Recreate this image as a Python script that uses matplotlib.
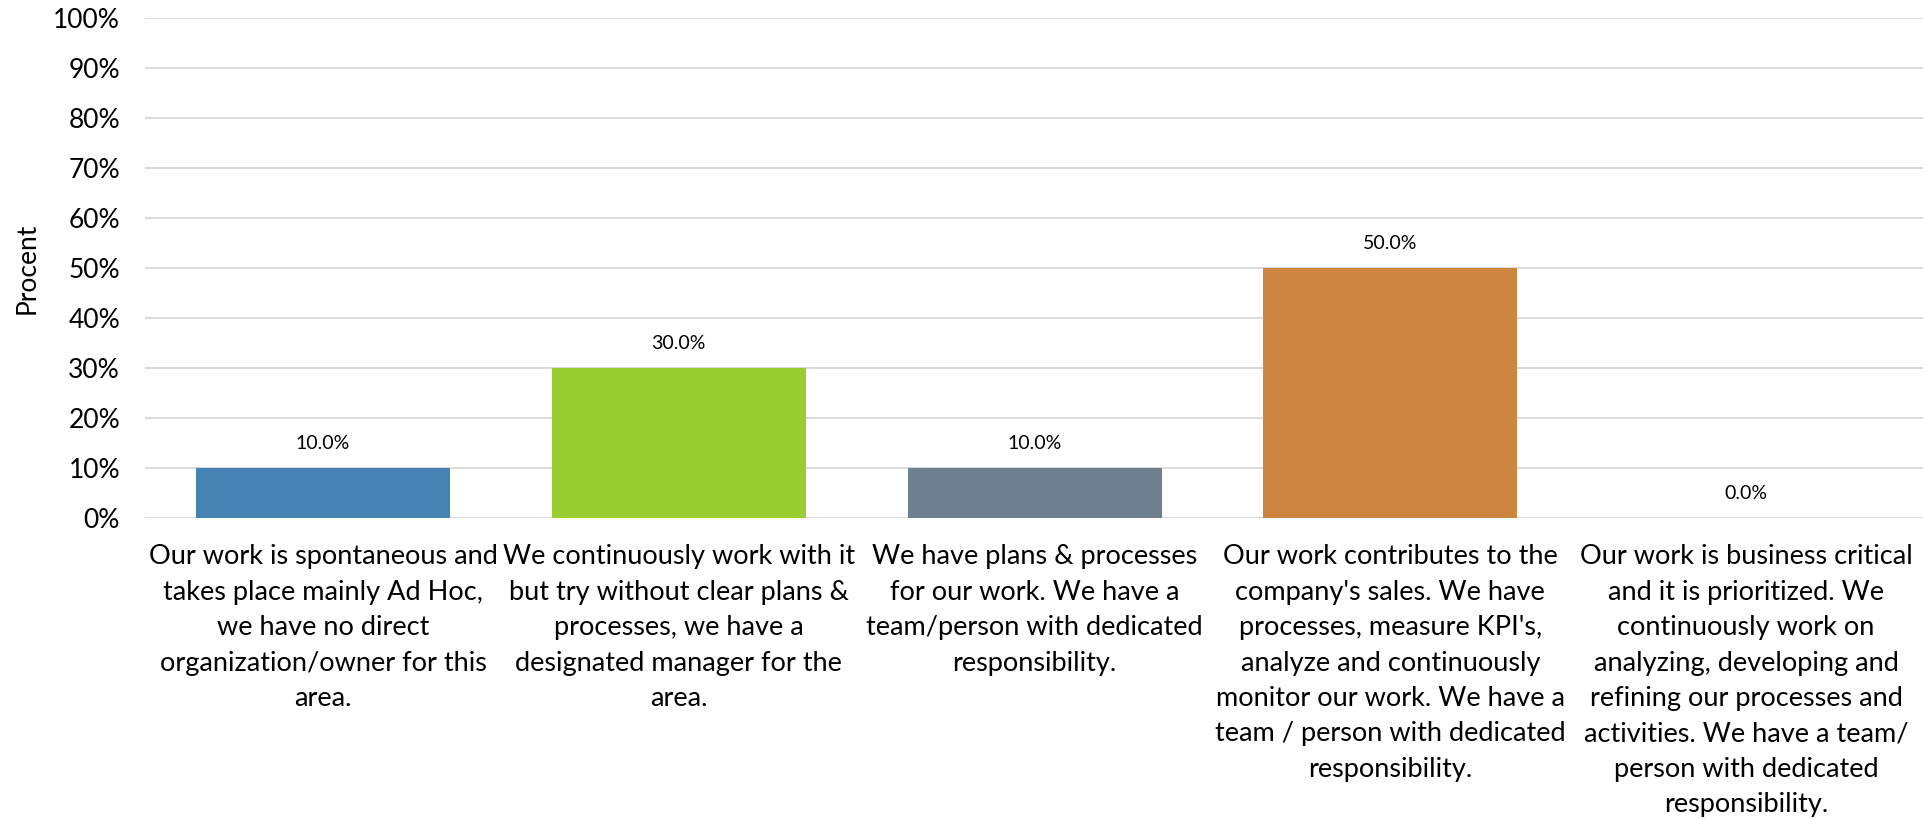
import matplotlib.pyplot as plt
import numpy as np

categories = [
    "Our work is spontaneous and\ntakes place mainly Ad Hoc,\nwe have no direct\norganization/owner for this\narea.",
    "We continuously work with it\nbut try without clear plans &\nprocesses, we have a\ndesignated manager for the\narea.",
    "We have plans & processes\nfor our work. We have a\nteam/person with dedicated\nresponsibility.",
    "Our work contributes to the\ncompany's sales. We have\nprocesses, measure KPI's,\nanalyze and continuously\nmonitor our work. We have a\nteam / person with dedicated\nresponsibility.",
    "Our work is business critical\nand it is prioritized. We\ncontinuously work on\nanalyzing, developing and\nrefining our processes and\nactivities. We have a team/\nperson with dedicated\nresponsibility.",
]
values = [10.0, 30.0, 10.0, 50.0, 0.0]
colors = ["#4682B4", "#9ACD32", "#708090", "#CD853F", "#5B9BD5"]
yticks = list(range(0, 101, 10))

plt.rcParams['font.family'] = ['Lato', 'DejaVu Sans']

fig = plt.figure(figsize=(19.24, 8.19), dpi=100)
ax = fig.add_axes([0.0754, 0.3675, 0.9246, 0.6105])

x = np.arange(len(values))
ax.bar(x, values, width=0.714, color=colors, zorder=3)

for xi, v in zip(x, values):
    ax.annotate(f"{v:.1f}%", (xi, v), xytext=(0, 18), textcoords='offset points',
                ha='center', va='center', fontsize=14, color='#000000')

ax.set_xlim(-0.5, len(values) - 0.5)
ax.set_ylim(0, 100)
ax.set_yticks(yticks)
ax.set_yticklabels([f"{t}%" for t in yticks], fontsize=19)
ax.set_xticks(x)
ax.set_xticklabels(categories, fontsize=19.5, linespacing=1.52, va='top')
ax.tick_params(axis='both', length=0)
ax.tick_params(axis='y', pad=18)
ax.tick_params(axis='x', pad=19)

ax.grid(axis='y', color='#D9D9D9', linewidth=1.4, zorder=0)
for s in ax.spines.values():
    s.set_visible(False)

ax.set_ylabel("Procent", fontsize=19)
ax.yaxis.set_label_coords(-0.059, 0.5)

fig.savefig("out.png", dpi=100)
